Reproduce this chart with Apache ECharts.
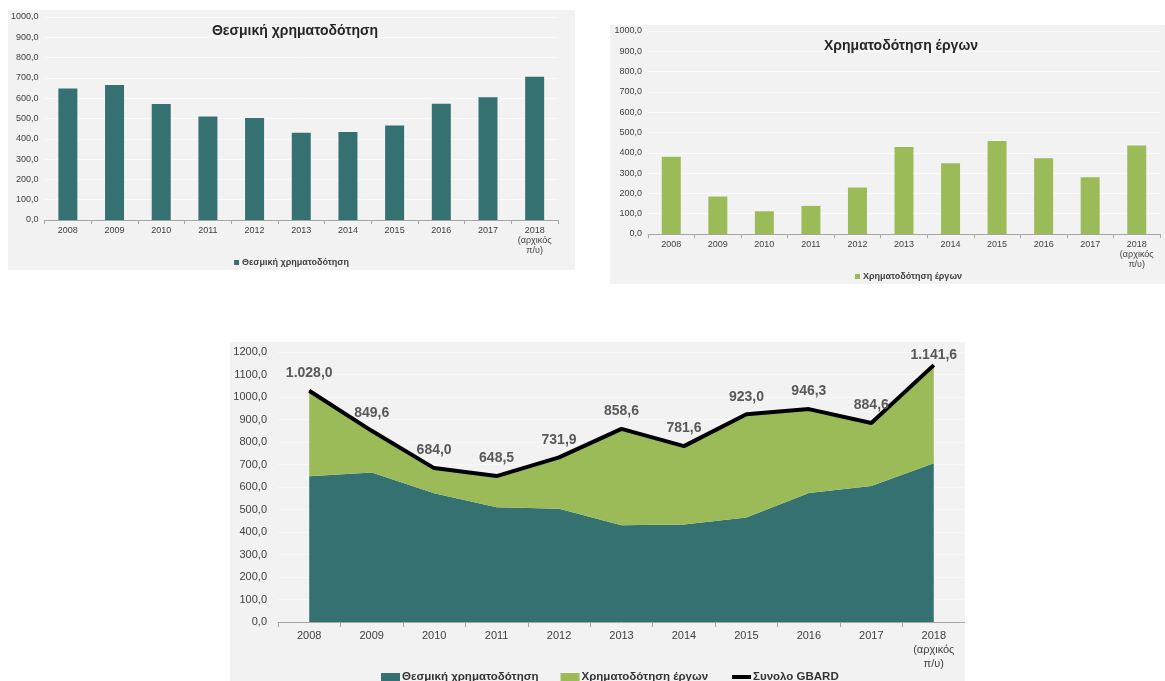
<!DOCTYPE html>
<html>
<head>
<meta charset="utf-8">
<script src="https://cdn.jsdelivr.net/npm/echarts@6/dist/echarts.min.js"></script>
<style>
  body { margin: 0; background: #fff; }
  .panel { position: absolute; background: #f2f2f2; }
</style>
</head>
<body>
<div id="c1" class="panel" style="left:8px;top:10px;width:567px;height:260px"></div>
<div id="c2" class="panel" style="left:610px;top:25px;width:555px;height:259px"></div>
<div id="c3" class="panel" style="left:230px;top:342px;width:735px;height:339px"></div>
<script>
// κατηγορίες (έτη)
var years = ['2008', '2009', '2010', '2011', '2012', '2013', '2014', '2015', '2016', '2017', '2018\n(αρχικός\nπ/υ)']
// Θεσμική χρηματοδότηση
var institutional = [648.0, 665.0, 572.0, 510.0, 503.0, 430.0, 433.0, 465.0, 573.0, 605.0, 706.0]
// Χρηματοδότηση έργων
var projects = [380.0, 184.6, 112.0, 138.5, 228.9, 428.6, 348.6, 458.0, 373.3, 279.6, 435.6]
// Συνολο GBARD
var totals = [1028.0, 849.6, 684.0, 648.5, 731.9, 858.6, 781.6, 923.0, 946.3, 884.6, 1141.6]

var TEAL = '#367171'
var GREEN = '#9bbb59'
var FONT = "'Liberation Sans', Arial, sans-serif"

function axisFmt(v) {
  return v.toFixed(1).replace('.', ',')
}
function labelFmt(v) {
  var p = v.toFixed(1).split('.')
  return p[0].replace(/\B(?=(\d{3})+(?!\d))/g, '.') + ',' + p[1]
}

function barOption(title, titleX, name, data, color, grid, legendX, legendTop) {
  return {
    animation: false,
    textStyle: { fontFamily: FONT },
    title: {
      text: title,
      left: titleX,
      textAlign: 'center',
      top: 9,
      textStyle: { fontSize: 14, fontWeight: 'bold', color: '#262626', fontFamily: FONT }
    },
    legend: {
      data: [name],
      left: legendX,
      top: legendTop,
      itemWidth: 5,
      itemHeight: 5,
      itemGap: 4,
      icon: 'rect',
      textStyle: { fontSize: 9, fontWeight: 'bold', color: '#404040', fontFamily: FONT, padding: [0, 0, 0, -2] }
    },
    grid: grid,
    xAxis: {
      type: 'category',
      data: years,
      axisLine: { lineStyle: { color: '#a6a6a6' } },
      axisTick: { show: true, length: 4, lineStyle: { color: '#a6a6a6' } },
      axisLabel: { fontSize: 9, color: '#404040', margin: 6, lineHeight: 10, interval: 0, fontFamily: FONT }
    },
    yAxis: {
      type: 'value',
      min: 0,
      max: 1000,
      interval: 100,
      axisLine: { show: false },
      axisTick: { show: false },
      axisLabel: { fontSize: 9, color: '#404040', margin: 6, formatter: axisFmt, fontFamily: FONT },
      splitLine: { lineStyle: { color: '#fafafa' } }
    },
    series: [{
      name: name,
      type: 'bar',
      data: data,
      barWidth: 19,
      itemStyle: { color: color }
    }]
  }
}

var chart1 = echarts.init(document.getElementById('c1'))
chart1.setOption(barOption('Θεσμική χρηματοδότηση', 282, 'Θεσμική χρηματοδότηση', institutional, TEAL,
  { left: 35, right: 17, top: 7, height: 203 }, 'center', 243))

var chart2 = echarts.init(document.getElementById('c2'))
chart2.setOption(barOption('Χρηματοδότηση έργων', 286, 'Χρηματοδότηση έργων', projects, GREEN,
  { left: 38, right: 5, top: 6, height: 203 }, 240, 242))

// the last label sits closer to the line (top edge of the plot)
var totalsData = totals.map(function (v, i) {
  return i === totals.length - 1 ? { value: v, label: { distance: 2 } } : v
})

var chart3 = echarts.init(document.getElementById('c3'))
chart3.setOption({
  animation: false,
  textStyle: { fontFamily: FONT },
  legend: {
    left: 146,
    top: 324,
    itemWidth: 19,
    itemHeight: 8,
    itemGap: 22,
    textStyle: { fontSize: 11.5, fontWeight: 'bold', color: '#333', fontFamily: FONT, padding: [0, 0, 0, -3] },
    data: [
      { name: 'Θεσμική χρηματοδότηση', icon: 'rect' },
      { name: 'Χρηματοδότηση έργων', icon: 'rect' },
      { name: 'Συνολο GBARD', itemStyle: { opacity: 0 }, lineStyle: { width: 4, color: '#000' } }
    ]
  },
  grid: { left: 48, right: 0, top: 10, height: 270 },
  xAxis: {
    type: 'category',
    data: years,
    axisLine: { lineStyle: { color: '#a6a6a6' } },
    axisTick: { show: true, length: 5, lineStyle: { color: '#a6a6a6' } },
    axisLabel: { fontSize: 11, color: '#404040', margin: 7, lineHeight: 14, interval: 0, fontFamily: FONT }
  },
  yAxis: {
    type: 'value',
    min: 0,
    max: 1200,
    interval: 100,
    axisLine: { show: false },
    axisTick: { show: false },
    axisLabel: { fontSize: 11, color: '#404040', margin: 11, formatter: axisFmt, fontFamily: FONT },
    splitLine: { lineStyle: { color: '#f8f8f8' } }
  },
  series: [
    {
      name: 'Θεσμική χρηματοδότηση',
      type: 'line',
      stack: 'gbard',
      data: institutional,
      symbol: 'none',
      lineStyle: { width: 0 },
      itemStyle: { color: TEAL },
      areaStyle: { color: TEAL, opacity: 1 }
    },
    {
      name: 'Χρηματοδότηση έργων',
      type: 'line',
      stack: 'gbard',
      data: projects,
      symbol: 'none',
      lineStyle: { width: 0 },
      itemStyle: { color: GREEN },
      areaStyle: { color: GREEN, opacity: 1 }
    },
    {
      name: 'Συνολο GBARD',
      type: 'line',
      data: totalsData,
      symbol: 'circle',
      symbolSize: 1,
      showSymbol: true,
      z: 5,
      lineStyle: { color: '#000', width: 4 },
      itemStyle: { color: '#000' },
      label: {
        show: true,
        position: 'top',
        distance: 10,
        formatter: function (p) { return labelFmt(p.value) },
        fontSize: 14,
        fontWeight: 'bold',
        color: '#595959',
        fontFamily: FONT
      }
    }
  ]
})
</script>
</body>
</html>
